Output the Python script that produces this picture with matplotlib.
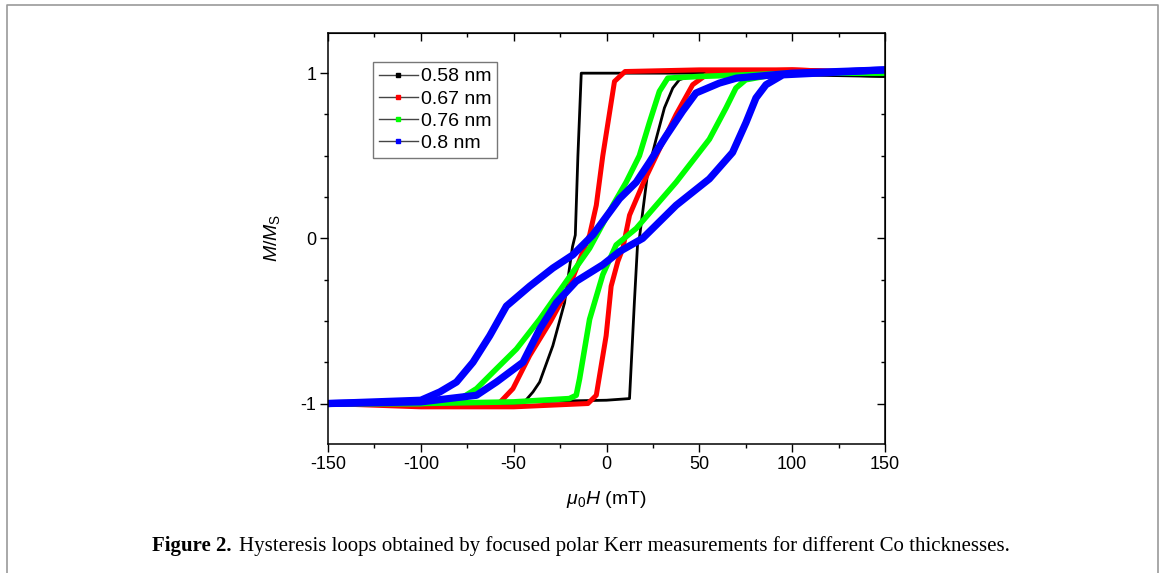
import matplotlib
matplotlib.use('Agg')
import matplotlib.pyplot as plt
from matplotlib.lines import Line2D
from matplotlib.ticker import MultipleLocator

plt.rcParams['font.family'] = ['Liberation Sans', 'DejaVu Sans']
plt.rcParams['mathtext.fontset'] = 'custom'
plt.rcParams['mathtext.it'] = 'Liberation Sans:italic'
plt.rcParams['mathtext.rm'] = 'Liberation Sans'

# hysteresis branches (field in mT, M/Ms)
# descending: +150 -> -150, ascending: -150 -> +150
h058_dn = [150, 100, 50, 0, -13.6, -15.4, -16.8, -18.3, -22.6, -28.9, -36, -39.6, -45, -100, -150]
m058_dn = [0.98, 0.99, 1.0, 1.0, 1.0, 0.5, 0.02, -0.05, -0.39, -0.65, -0.87, -0.93, -1.0, -1.0, -1.0]
h058_up = [-150, -100, -50, 0, 12.4, 15, 16.8, 17.7, 22.2, 26.7, 31.2, 35.7, 39.2, 50, 100, 150]
m058_up = [-1.0, -1.0, -0.99, -0.98, -0.97, -0.39, -0.02, 0.0, 0.40, 0.60, 0.79, 0.91, 0.96, 1.0, 1.0, 0.98]

h067_dn = [150, 100, 50, 10, 4.3, -2, -5.5, -9.1, -12.7, -19.9, -30, -41.4, -50.4, -58, -100, -150]
m067_dn = [1.0, 1.02, 1.02, 1.01, 0.95, 0.5, 0.2, 0.02, -0.08, -0.29, -0.50, -0.71, -0.91, -1.0, -1.01, -1.0]
h067_up = [-150, -100, -50, -10, -5.5, -0.2, 2.5, 6.1, 8.8, 12.4, 20, 28.5, 37.5, 46.4, 55, 100, 150]
m067_up = [-1.0, -1.02, -1.02, -1.0, -0.95, -0.59, -0.29, -0.14, -0.06, 0.14, 0.34, 0.54, 0.75, 0.93, 1.0, 1.02, 1.0]

h076_dn = [150, 100, 50, 33, 28.5, 23.1, 17.7, 10.6, 3.4, -9.1, -23.5, -36, -48.5, -59.3, -70, -80, -100, -150]
m076_dn = [1.0, 1.0, 0.98, 0.97, 0.89, 0.70, 0.50, 0.34, 0.20, -0.06, -0.29, -0.49, -0.67, -0.79, -0.91, -0.98, -1.0, -1.0]
h076_up = [-150, -100, -50, -20, -16.3, -14.5, -9.1, -2, 5.2, 16, 37.5, 55.4, 64.4, 69.7, 75, 90, 100, 150]
m076_up = [-1.0, -1.0, -0.99, -0.97, -0.95, -0.85, -0.49, -0.22, -0.04, 0.06, 0.34, 0.60, 0.79, 0.91, 0.96, 0.99, 1.0, 1.0]

h08_dn = [150, 100, 70, 60.8, 48.2, 41, 32.1, 23.1, 16, 7, -7.4, -18.1, -28.9, -41.4, -53.9, -62.9, -71.9, -80.8, -89.8, -100, -150]
m08_dn = [1.02, 1.0, 0.97, 0.94, 0.88, 0.77, 0.62, 0.46, 0.34, 0.24, 0.02, -0.10, -0.18, -0.29, -0.41, -0.59, -0.75, -0.87, -0.93, -0.98, -1.0]
h08_up = [-150, -100, -70, -59.3, -45, -36, -27, -16.3, -2, 7, 19.5, 37.5, 55.4, 67.9, 75.1, 80.5, 85.9, 95, 150]
m08_up = [-1.0, -0.99, -0.95, -0.87, -0.75, -0.55, -0.39, -0.26, -0.16, -0.08, 0.0, 0.20, 0.36, 0.52, 0.70, 0.85, 0.93, 0.99, 1.02]

labels = ['0.58 nm', '0.67 nm', '0.76 nm', '0.8 nm']
colors = ['black', '#ff0000', '#00ff00', '#0000ff']
widths = [2.0, 3.6, 4.0, 5.2]
branches = [(h058_dn, m058_dn, h058_up, m058_up),
            (h067_dn, m067_dn, h067_up, m067_up),
            (h076_dn, m076_dn, h076_up, m076_up),
            (h08_dn, m08_dn, h08_up, m08_up)]

fig = plt.figure(figsize=(11.65, 5.73), dpi=100)
ax = fig.add_axes([328 / 1165, 1 - 444 / 573, 557 / 1165, 411.3 / 573])

for (hd, md, hu, mu), c, w in zip(branches, colors, widths):
    ax.plot(hd, md, color=c, lw=w, solid_capstyle='round', solid_joinstyle='round')
    ax.plot(hu, mu, color=c, lw=w, solid_capstyle='round', solid_joinstyle='round')

ax.set_xlim(-150, 150)
ax.set_ylim(-1.245, 1.245)
ax.xaxis.set_minor_locator(MultipleLocator(25))
ax.yaxis.set_minor_locator(MultipleLocator(0.25))
ax.set_xticks([-150, -100, -50, 0, 50, 100, 150])
ax.set_xticklabels(['-150', '-100', '-50', '0', '50', '100', '150'], fontsize=13)
ax.set_yticks([-1, 0, 1])
ax.set_yticklabels(['-1', '0', '1'], fontsize=13)
ax.tick_params(which='major', direction='out', length=5.5, width=1.0, pad=3)
ax.tick_params(which='minor', direction='out', length=3, width=1.0)
for s in ax.spines.values():
    s.set_linewidth(1.1)

# mirrored ticks pointing inward on top and right
top = ax.secondary_xaxis('top')
top.xaxis.set_major_locator(MultipleLocator(50))
top.xaxis.set_minor_locator(MultipleLocator(25))
top.tick_params(which='major', direction='in', length=5.5, width=1.0, labeltop=False)
top.tick_params(which='minor', direction='in', length=3, width=1.0)
right = ax.secondary_yaxis('right')
right.yaxis.set_major_locator(MultipleLocator(1))
right.yaxis.set_minor_locator(MultipleLocator(0.25))
right.tick_params(which='major', direction='in', length=5.5, width=1.0, labelright=False)
right.tick_params(which='minor', direction='in', length=3, width=1.0)

ax.set_xlabel(r'$\mu_0H$ (mT)', fontsize=14)
ax.xaxis.set_label_coords(0.5, -0.11)
ax.set_ylabel(r'$M/M_\mathrm{S}$', fontsize=14)
ax.yaxis.set_label_coords(-0.083, 0.5)

handles = [Line2D([0], [0], color='#444444', lw=1.0, marker='s', markersize=2.5,
                  markerfacecolor=c, markeredgecolor=c) for c in colors]
leg = ax.legend(handles, labels, loc='upper left', bbox_to_anchor=(0.081, 0.929),
                fontsize=14, frameon=True, fancybox=False, edgecolor='#555555',
                handlelength=2.0, handletextpad=0.15, labelspacing=0.24,
                borderpad=0.3, borderaxespad=0)
leg.get_frame().set_linewidth(1.0)

# caption and surrounding frame
fig.text(152 / 1165, 1 - 551 / 573, 'Figure 2.', fontsize=15, fontweight='bold',
         family='Liberation Serif', va='baseline', ha='left')
fig.text(239 / 1165, 1 - 551 / 573,
         'Hysteresis loops obtained by focused polar Kerr measurements for different Co thicknesses.',
         fontsize=15, family='Liberation Serif', va='baseline', ha='left')
fig.add_artist(Line2D([7 / 1165, 7 / 1165, 1158 / 1165, 1158 / 1165],
                      [0, 1 - 5 / 573, 1 - 5 / 573, 0],
                      transform=fig.transFigure, color='#999999', lw=1.2))

fig.savefig('out.png', dpi=100)
